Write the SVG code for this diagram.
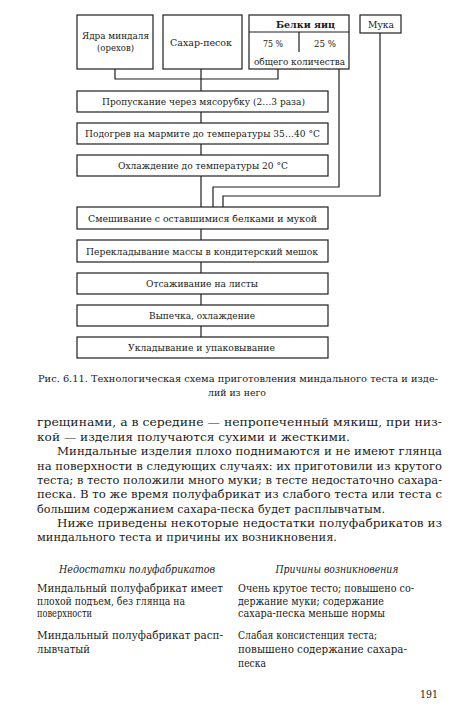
<svg xmlns="http://www.w3.org/2000/svg" width="474" height="711" viewBox="0 0 474 711">
<style>
.b{fill:#fff;stroke:#1e1e1e;stroke-width:1.2}
.c{fill:none;stroke:#1e1e1e;stroke-width:1.2}
text{font-family:'DejaVu Serif',serif;fill:#1a1a1a}
.t{font-size:10px;text-anchor:middle}
.p{font-size:11.2px}
.s{font-size:10.5px}
.cap{font-size:9.8px}
.i{font-style:italic;text-anchor:middle}
</style>
<rect width="474" height="711" fill="#fff"/>
<g id="connectors">
<path class="c" d="M115,69 V79 H278 V69"/>
<path class="c" d="M201,69 V91 M201,112 V123 M201,144 V155 M201,176 V207"/>
<path class="c" d="M339,69 V187 H213 V207"/>
<path class="c" d="M380,33 V196 H223 V207"/>
<path class="c" d="M201,229 V240 M201,262 V273 M201,294 V305 M201,326 V337"/>
</g>
<g id="n-almond"><rect class="b" x="77" y="15" width="76" height="54"/><text class="t" x="115.5" y="39" textLength="67" lengthAdjust="spacingAndGlyphs">Ядра миндаля</text><text class="t" x="115.5" y="51" textLength="37" lengthAdjust="spacingAndGlyphs">(орехов)</text></g>
<g id="n-sugar"><rect class="b" x="163" y="15" width="79" height="54"/><text class="t" x="201" y="46" textLength="62" lengthAdjust="spacingAndGlyphs">Сахар-песок</text></g>
<g id="n-eggs"><rect class="b" x="249" y="15" width="100" height="54"/><line class="c" x1="249" y1="32" x2="349" y2="32"/><line class="c" x1="299" y1="32" x2="299" y2="52"/><text class="t" x="305.5" y="28" font-weight="bold" textLength="59" lengthAdjust="spacingAndGlyphs">Белки яиц</text><text class="t" x="273" y="47" textLength="20" lengthAdjust="spacingAndGlyphs">75 %</text><text class="t" x="325" y="47" textLength="22" lengthAdjust="spacingAndGlyphs">25 %</text><text class="t" x="299.5" y="65" textLength="91" lengthAdjust="spacingAndGlyphs">общего количества</text></g>
<g id="n-flour"><rect class="b" x="360" y="15" width="41" height="18"/><text class="t" x="381" y="28" textLength="26" lengthAdjust="spacingAndGlyphs">Мука</text></g>
<g id="n1"><rect class="b" x="77" y="91" width="251" height="21"/><text class="t" x="203.5" y="105" textLength="203" lengthAdjust="spacingAndGlyphs">Пропускание через мясорубку (2…3 раза)</text></g>
<g id="n2"><rect class="b" x="77" y="123" width="251" height="21"/><text class="t" x="202.5" y="137" textLength="235" lengthAdjust="spacingAndGlyphs">Подогрев на мармите до температуры 35…40 °С</text></g>
<g id="n3"><rect class="b" x="77" y="155" width="251" height="21"/><text class="t" x="203" y="169" textLength="170" lengthAdjust="spacingAndGlyphs">Охлаждение до температуры 20 °С</text></g>
<g id="n4"><rect class="b" x="77" y="207" width="251" height="22"/><text class="t" x="202.5" y="222" textLength="229" lengthAdjust="spacingAndGlyphs">Смешивание с оставшимися белками и мукой</text></g>
<g id="n5"><rect class="b" x="77" y="240" width="251" height="22"/><text class="t" x="202" y="255" textLength="232" lengthAdjust="spacingAndGlyphs">Перекладывание массы в кондитерский мешок</text></g>
<g id="n6"><rect class="b" x="77" y="273" width="251" height="21"/><text class="t" x="202" y="287" textLength="112" lengthAdjust="spacingAndGlyphs">Отсаживание на листы</text></g>
<g id="n7"><rect class="b" x="77" y="305" width="251" height="21"/><text class="t" x="202" y="319" textLength="106" lengthAdjust="spacingAndGlyphs">Выпечка, охлаждение</text></g>
<g id="n8"><rect class="b" x="77" y="337" width="251" height="21"/><text class="t" x="201.5" y="351" textLength="147" lengthAdjust="spacingAndGlyphs">Укладывание и упаковывание</text></g>
<g id="caption">
<text class="cap" x="38" y="382" textLength="400" lengthAdjust="spacingAndGlyphs">Рис. 6.11. Технологическая схема приготовления миндального теста и изде-</text>
<text class="cap" x="237" y="396" text-anchor="middle" textLength="58" lengthAdjust="spacingAndGlyphs">лий из него</text>
</g>
<g id="body">
<text class="p" x="37" y="426" textLength="405" lengthAdjust="spacingAndGlyphs">грещинами, а в середине — непропеченный мякиш, при низ-</text>
<text class="p" x="37" y="441" textLength="313" lengthAdjust="spacingAndGlyphs">кой — изделия получаются сухими и жесткими.</text>
<text class="p" x="57" y="455" textLength="385" lengthAdjust="spacingAndGlyphs">Миндальные изделия плохо поднимаются и не имеют глянца</text>
<text class="p" x="37" y="470" textLength="405" lengthAdjust="spacingAndGlyphs">на поверхности в следующих случаях: их приготовили из крутого</text>
<text class="p" x="37" y="484" textLength="405" lengthAdjust="spacingAndGlyphs">теста; в тесто положили много муки; в тесте недостаточно сахара-</text>
<text class="p" x="37" y="498" textLength="405" lengthAdjust="spacingAndGlyphs">песка. В то же время полуфабрикат из слабого теста или теста с</text>
<text class="p" x="37" y="513" textLength="348" lengthAdjust="spacingAndGlyphs">большим содержанием сахара-песка будет расплывчатым.</text>
<text class="p" x="57" y="527" textLength="385" lengthAdjust="spacingAndGlyphs">Ниже приведены некоторые недостатки полуфабрикатов из</text>
<text class="p" x="37" y="541" textLength="300" lengthAdjust="spacingAndGlyphs">миндального теста и причины их возникновения.</text>
</g>
<g id="table">
<text class="s i" x="137" y="573" textLength="156" lengthAdjust="spacingAndGlyphs">Недостатки полуфабрикатов</text>
<text class="s i" x="337" y="573" textLength="123" lengthAdjust="spacingAndGlyphs">Причины возникновения</text>
<text class="s" x="37" y="592" textLength="186" lengthAdjust="spacingAndGlyphs">Миндальный полуфабрикат имеет</text>
<text class="s" x="37" y="605" textLength="148" lengthAdjust="spacingAndGlyphs">плохой подъем, без глянца на</text>
<text class="s" x="37" y="617" textLength="55" lengthAdjust="spacingAndGlyphs">поверхности</text>
<text class="s" x="37" y="639" textLength="186" lengthAdjust="spacingAndGlyphs">Миндальный полуфабрикат расп-</text>
<text class="s" x="37" y="653" textLength="53" lengthAdjust="spacingAndGlyphs">лывчатый</text>
<text class="s" x="238" y="592" textLength="176" lengthAdjust="spacingAndGlyphs">Очень крутое тесто; повышено со-</text>
<text class="s" x="238" y="605" textLength="146" lengthAdjust="spacingAndGlyphs">держание муки; содержание</text>
<text class="s" x="238" y="617" textLength="147" lengthAdjust="spacingAndGlyphs">сахара-песка меньше нормы</text>
<text class="s" x="238" y="639" textLength="139" lengthAdjust="spacingAndGlyphs">Слабая консистенция теста;</text>
<text class="s" x="238" y="653" textLength="169" lengthAdjust="spacingAndGlyphs">повышено содержание сахара-</text>
<text class="s" x="238" y="667" textLength="28" lengthAdjust="spacingAndGlyphs">песка</text>
<text class="p" x="420" y="698" font-size="13" textLength="18" lengthAdjust="spacingAndGlyphs">191</text>
</g>
</svg>
